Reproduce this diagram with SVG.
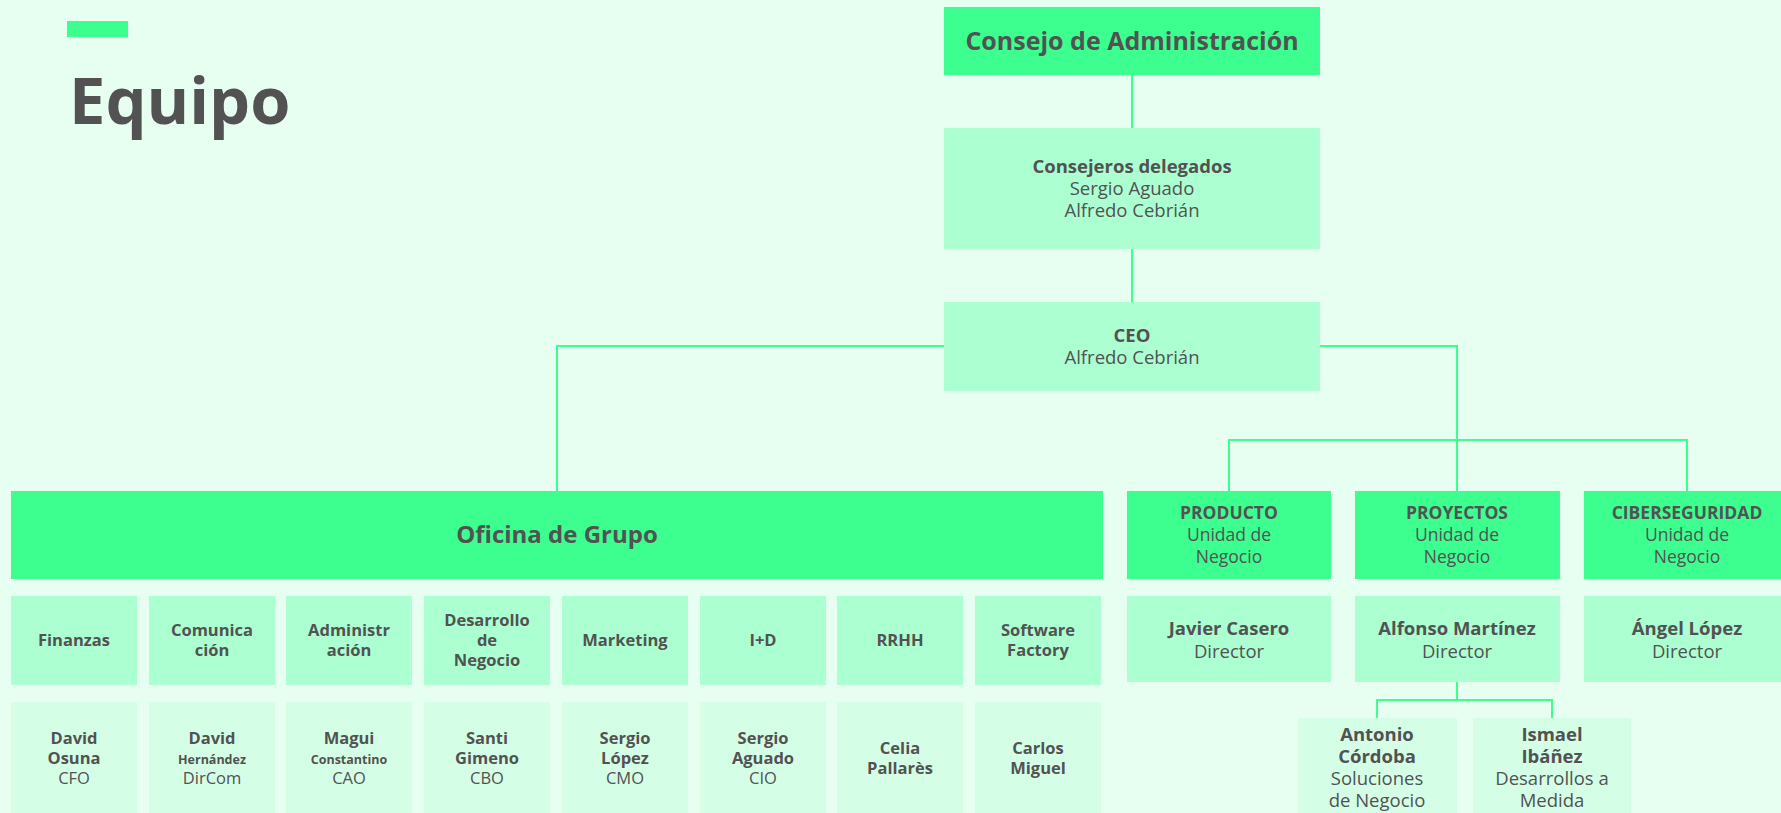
<svg xmlns="http://www.w3.org/2000/svg" width="1781" height="813" viewBox="0 0 1781 813">
<style>
.bg{fill:#E6FFF1}
.b1{fill:#3CFF8F}
.b2{fill:#ABFFD0}
.b3{fill:#D4FFE6}
text{font-family:"Open Sans","Liberation Sans",sans-serif;fill:#525252;text-anchor:middle}
.t{font-weight:700}
.r{font-weight:400}
.c{fill:none;stroke:#3CFF8F;stroke-width:2}
</style>
<rect class="bg" x="0" y="0" width="1781" height="813"/>
<rect class="b1" x="67" y="21" width="61" height="16"/>
<text x="69" y="124" style="text-anchor:start;font-weight:700;font-size:65px">Equipo</text>
<g id="connectors">
<path class="c" d="M1132 75V128M1132 249V302"/>
<path class="c" d="M944 346H557V491"/>
<path class="c" d="M1320 346H1457V491M1229 491V440H1687V491"/>
<path class="c" d="M1457 682V700M1377 718V700H1552V718"/>
</g>
<g id="consejo"><rect class="b1" x="944" y="7" width="376" height="68"/><text class="t" x="1132" y="50" font-size="25">Consejo de Administración</text></g>
<g id="consejeros"><rect class="b2" x="944" y="128" width="376" height="121"/><text x="1132" font-size="18.5"><tspan class="t" x="1132" y="173">Consejeros delegados</tspan><tspan class="r" x="1132" y="195">Sergio Aguado</tspan><tspan class="r" x="1132" y="217">Alfredo Cebrián</tspan></text></g>
<g id="ceo"><rect class="b2" x="944" y="302" width="376" height="89"/><text font-size="18.5"><tspan class="t" x="1132" y="342">CEO</tspan><tspan class="r" x="1132" y="364">Alfredo Cebrián</tspan></text></g>
<g id="oficina"><rect class="b1" x="11" y="491" width="1092" height="88"/><text class="t" x="557" y="543" font-size="24">Oficina de Grupo</text></g>
<g id="producto"><rect class="b1" x="1127" y="491" width="204" height="88"/><text font-size="17.5"><tspan class="t" x="1229" y="519">PRODUCTO</tspan><tspan class="r" x="1229" y="541">Unidad de</tspan><tspan class="r" x="1229" y="563">Negocio</tspan></text></g>
<g id="proyectos"><rect class="b1" x="1355" y="491" width="205" height="88"/><text font-size="17.5"><tspan class="t" x="1457" y="519">PROYECTOS</tspan><tspan class="r" x="1457" y="541">Unidad de</tspan><tspan class="r" x="1457" y="563">Negocio</tspan></text></g>
<g id="ciberseguridad"><rect class="b1" x="1584" y="491" width="205" height="88"/><text font-size="17.5"><tspan class="t" x="1687" y="519">CIBERSEGURIDAD</tspan><tspan class="r" x="1687" y="541">Unidad de</tspan><tspan class="r" x="1687" y="563">Negocio</tspan></text></g>
<g id="javier"><rect class="b2" x="1127" y="596" width="204" height="86"/><text font-size="18.5"><tspan class="t" x="1229" y="635">Javier Casero</tspan><tspan class="r" x="1229" y="658">Director</tspan></text></g>
<g id="alfonso"><rect class="b2" x="1355" y="596" width="205" height="86"/><text font-size="18.5"><tspan class="t" x="1457" y="635">Alfonso Martínez</tspan><tspan class="r" x="1457" y="658">Director</tspan></text></g>
<g id="angel"><rect class="b2" x="1584" y="596" width="205" height="86"/><text font-size="18.5"><tspan class="t" x="1687" y="635">Ángel López</tspan><tspan class="r" x="1687" y="658">Director</tspan></text></g>
<g id="antonio"><rect class="b3" x="1298" y="718" width="159" height="110"/><text font-size="18.5"><tspan class="t" x="1377" y="741">Antonio</tspan><tspan class="t" x="1377" y="763">Córdoba</tspan><tspan class="r" x="1377" y="785">Soluciones</tspan><tspan class="r" x="1377" y="807">de Negocio</tspan></text></g>
<g id="ismael"><rect class="b3" x="1473" y="718" width="158" height="110"/><text font-size="18.5"><tspan class="t" x="1552" y="741">Ismael</tspan><tspan class="t" x="1552" y="763">Ibáñez</tspan><tspan class="r" x="1552" y="785">Desarrollos a</tspan><tspan class="r" x="1552" y="807">Medida</tspan></text></g>
<g id="finanzas"><rect class="b2" x="11" y="596" width="126" height="89"/><text class="t" x="74" y="646" font-size="16.5">Finanzas</text></g>
<g id="comunicacion"><rect class="b2" x="149" y="596" width="126" height="89"/><text class="t" font-size="16.5"><tspan x="212" y="636">Comunica</tspan><tspan x="212" y="656">ción</tspan></text></g>
<g id="administracion"><rect class="b2" x="286" y="596" width="126" height="89"/><text class="t" font-size="16.5"><tspan x="349" y="636">Administr</tspan><tspan x="349" y="656">ación</tspan></text></g>
<g id="desarrollo"><rect class="b2" x="424" y="596" width="126" height="89"/><text class="t" font-size="16.5"><tspan x="487" y="626">Desarrollo</tspan><tspan x="487" y="646">de</tspan><tspan x="487" y="666">Negocio</tspan></text></g>
<g id="marketing"><rect class="b2" x="562" y="596" width="126" height="89"/><text class="t" x="625" y="646" font-size="16.5">Marketing</text></g>
<g id="imasd"><rect class="b2" x="700" y="596" width="126" height="89"/><text class="t" x="763" y="646" font-size="16.5">I+D</text></g>
<g id="rrhh"><rect class="b2" x="837" y="596" width="126" height="89"/><text class="t" x="900" y="646" font-size="16.5">RRHH</text></g>
<g id="software"><rect class="b2" x="975" y="596" width="126" height="89"/><text class="t" font-size="16.5"><tspan x="1038" y="636">Software</tspan><tspan x="1038" y="656">Factory</tspan></text></g>
<g id="osuna"><rect class="b3" x="11" y="702" width="126" height="120"/><text font-size="16.5"><tspan class="t" x="74" y="744">David</tspan><tspan class="t" x="74" y="764">Osuna</tspan><tspan class="r" x="74" y="784">CFO</tspan></text></g>
<g id="hernandez"><rect class="b3" x="149" y="702" width="126" height="120"/><text class="t" x="212" y="744" font-size="16.5">David</text><text class="t" x="212" y="764" font-size="12.5">Hernández</text><text class="r" x="212" y="784" font-size="16.5">DirCom</text></g>
<g id="magui"><rect class="b3" x="286" y="702" width="126" height="120"/><text class="t" x="349" y="744" font-size="16.5">Magui</text><text class="t" x="349" y="764" font-size="12.5">Constantino</text><text class="r" x="349" y="784" font-size="16.5">CAO</text></g>
<g id="santi"><rect class="b3" x="424" y="702" width="126" height="120"/><text font-size="16.5"><tspan class="t" x="487" y="744">Santi</tspan><tspan class="t" x="487" y="764">Gimeno</tspan><tspan class="r" x="487" y="784">CBO</tspan></text></g>
<g id="slopez"><rect class="b3" x="562" y="702" width="126" height="120"/><text font-size="16.5"><tspan class="t" x="625" y="744">Sergio</tspan><tspan class="t" x="625" y="764">López</tspan><tspan class="r" x="625" y="784">CMO</tspan></text></g>
<g id="saguado"><rect class="b3" x="700" y="702" width="126" height="120"/><text font-size="16.5"><tspan class="t" x="763" y="744">Sergio</tspan><tspan class="t" x="763" y="764">Aguado</tspan><tspan class="r" x="763" y="784">CIO</tspan></text></g>
<g id="celia"><rect class="b3" x="837" y="702" width="126" height="120"/><text class="t" font-size="16.5"><tspan x="900" y="754">Celia</tspan><tspan x="900" y="774">Pallarès</tspan></text></g>
<g id="carlos"><rect class="b3" x="975" y="702" width="126" height="120"/><text class="t" font-size="16.5"><tspan x="1038" y="754">Carlos</tspan><tspan x="1038" y="774">Miguel</tspan></text></g>
</svg>
